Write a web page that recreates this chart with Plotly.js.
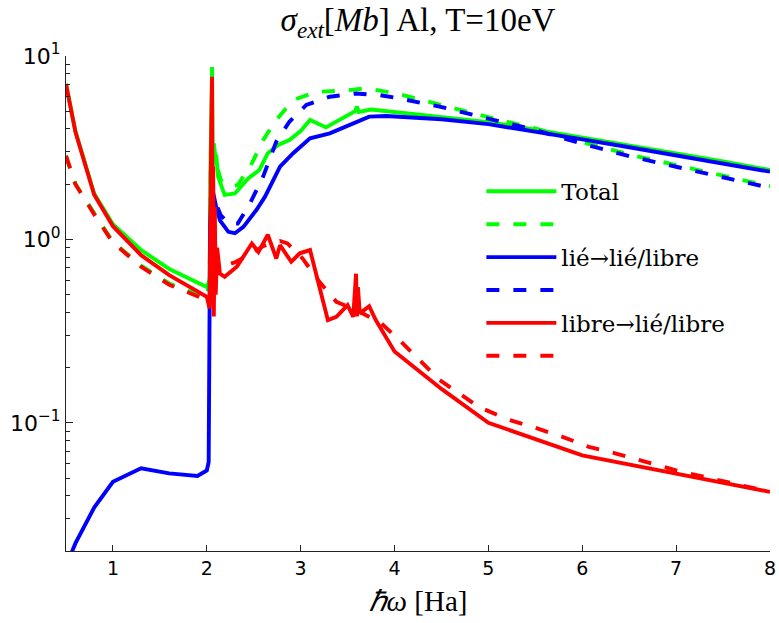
<!DOCTYPE html>
<html>
<head>
<meta charset="utf-8">
<script src="https://cdn.plot.ly/plotly-3.0.1.min.js"></script>
<style>html,body{margin:0;padding:0;background:#fff;}#chart{width:779px;height:623px;}</style>
</head>
<body>
<div id="chart"></div>
<script>
// ---- data ----
var totX = [0.5,0.6,0.8,1.0,1.3,1.6,2.0,2.03,2.04,2.048,2.056,2.064,2.072,2.085,2.1,2.12,2.19,2.3,2.44,2.56,2.65,2.76,2.88,3.0,3.1,3.27,3.49,3.58,3.6,3.62,3.75,4.0,4.5,5.0,5.5,6.0,6.5,7.0,7.5,8.0];
var totY = [7.05,3.9,1.78,1.21,0.875,0.69,0.55,0.6,2.7,5.5,8.7,2.5,3.1,2.7,2.9,2.2,1.75,1.78,2.15,2.39,2.95,3.27,3.48,3.9,4.48,4.08,4.67,5.0,5.3,4.95,5.11,4.95,4.68,4.36,3.97,3.58,3.25,2.94,2.66,2.39];

var totDX = [0.5,0.6,0.8,1.0,1.3,1.6,2.0,2.03,2.045,2.055,2.07,2.1,2.15,2.24,2.33,2.47,2.6,2.74,2.92,3.17,3.45,3.7,4.02,4.48,5.12,5.5,6.0,6.53,7.0,7.5,8.0];
var totDY = [2.87,2.01,1.39,0.97,0.72,0.575,0.48,0.6,3.8,2.6,3.5,2.6,2.1,1.94,1.98,2.54,3.48,4.48,5.75,6.38,6.47,6.67,6.25,5.41,4.48,4.03,3.39,2.88,2.54,2.23,1.95];

var bbX = [0.5,0.6,0.8,1.0,1.3,1.6,1.9,2.0,2.02,2.035,2.05,2.07,2.1,2.14,2.23,2.3,2.39,2.53,2.62,2.71,2.78,2.92,3.1,3.31,3.56,3.73,3.91,4.0,4.5,5.0,5.5,6.0,6.5,7.0,7.5,8.0];
var bbY = [0.0165,0.022,0.0345,0.0477,0.0565,0.053,0.0513,0.055,0.0612,1.2,1.8,1.78,1.5,1.27,1.10,1.08,1.17,1.45,1.71,2.11,2.49,2.95,3.56,3.79,4.3,4.67,4.71,4.68,4.52,4.25,3.88,3.51,3.18,2.88,2.61,2.34];

var bbDX = [2.04,2.06,2.08,2.15,2.24,2.33,2.46,2.6,2.74,2.88,3.06,3.31,3.59,3.84,4.05,4.48,5.12,5.5,6.0,6.53,7.0,7.5,8.0];
var bbDY = [1.0,1.7,1.64,1.35,1.22,1.22,1.57,2.2,3.41,4.38,5.41,6.0,6.25,6.12,5.87,5.3,4.4,3.95,3.32,2.82,2.49,2.18,1.91];

var fbX = [0.5,0.6,0.8,1.0,1.3,1.6,2.0,2.03,2.045,2.056,2.062,2.068,2.075,2.085,2.095,2.11,2.14,2.19,2.32,2.48,2.55,2.65,2.74,2.78,2.9,2.99,3.1,3.29,3.38,3.5,3.56,3.59,3.6,3.61,3.63,3.73,3.8,4.0,4.5,5.0,6.0,7.0,8.0];
var fbY = [7.03,3.86,1.75,1.18,0.82,0.638,0.486,0.42,3.0,7.7,0.6,2.5,0.38,1.5,0.5,0.9,0.65,0.625,0.71,0.95,0.855,1.06,0.787,0.93,0.755,0.84,0.875,0.363,0.378,0.438,0.378,0.65,0.38,0.55,0.395,0.432,0.363,0.245,0.153,0.1,0.0665,0.053,0.042];

var fbDX = [0.5,0.6,0.8,1.0,1.3,1.6,2.0,2.04,2.055,2.07,2.1,2.2,2.3,2.45,2.6,2.78,2.86,3.02,3.2,3.38,3.6,3.86,4.05,4.27,4.48,4.9,5.19,5.47,5.79,6.07,6.36,7.0,7.42,8.0];
var fbDY = [2.85,2.0,1.37,0.96,0.71,0.566,0.467,0.44,1.2,0.6,0.68,0.72,0.75,0.82,0.92,0.98,0.95,0.787,0.587,0.457,0.41,0.348,0.283,0.22,0.171,0.122,0.105,0.095,0.0838,0.0739,0.068,0.055,0.049,0.042];

var names = ['Total', ' ', 'lié→lié/libre', ' ', 'libre→lié/libre', ' '];
var xTicks = [1,2,3,4,5,6,7,8];
var yTicks = [0.1, 1, 10];
var yTickText = ['10<sup>−1</sup>', '10<sup>0</sup>', '10<sup>1</sup>'];

// ---- chart ----
var GREEN = '#00ff00', BLUE = '#0000ff', RED = '#ff0000';
var LW = 3.9, DASH = '13px,14px';
function tr(x, y, name, color, dashed) {
  return {x: x, y: y, name: name, type: 'scatter', mode: 'lines',
          line: {color: color, width: LW, dash: dashed ? DASH : 'solid'}};
}
var data = [
  tr(totX, totY, names[0], GREEN, false),
  tr(totDX, totDY, names[1], GREEN, true),
  tr(bbX, bbY, names[2], BLUE, false),
  tr(bbDX, bbDY, names[3], BLUE, true),
  tr(fbX, fbY, names[4], RED, false),
  tr(fbDX, fbDY, names[5], RED, true)
];

var minorVals = [];
[0.01, 0.1, 1].forEach(function (d) { for (var k = 2; k <= 9; k++) minorVals.push(k * d); });

var serif = 'Liberation Serif';
var sans = 'DejaVu Sans';
var layout = {
  width: 779, height: 623,
  margin: {l: 66, r: 9, t: 56, b: 72},
  paper_bgcolor: '#fff', plot_bgcolor: '#fff',
  showlegend: true,
  title: {text: '<i>σ<sub>ext</sub></i>[<i>Mb</i>] Al, T=10eV', font: {family: serif, size: 33, color: '#000'},
          x: 0.5, xref: 'paper', xanchor: 'center', y: 0.968, yanchor: 'middle'},
  xaxis: {range: [0.5, 8], tickmode: 'array', tickvals: xTicks, ticks: 'inside', ticklen: 6, tickcolor: '#222',
          showline: true, linecolor: '#222', linewidth: 1, mirror: false, showgrid: false, zeroline: false,
          tickfont: {family: sans, size: 19, color: '#000'},
          title: {text: '<i>ℏω</i> [Ha]', font: {family: serif, size: 29, color: '#000'}, standoff: 12}},
  yaxis: {type: 'log', range: [Math.log10(0.02), 1], tickmode: 'array', tickvals: yTicks, ticktext: yTickText,
          ticks: 'inside', ticklen: 7, tickcolor: '#222', showline: true, linecolor: '#222', linewidth: 1,
          mirror: false, showgrid: false, zeroline: false,
          minor: {tickmode: 'array', tickvals: minorVals, ticks: 'inside', ticklen: 4, tickcolor: '#222', showgrid: false},
          tickfont: {family: sans, size: 22, color: '#000'}},
  legend: {x: 0.59, y: 0.770, xanchor: 'left', yanchor: 'top', bgcolor: 'rgba(0,0,0,0)', borderwidth: 0,
           itemwidth: 70, font: {family: 'DejaVu Serif', size: 23, color: '#000'}, tracegroupgap: 0}
};
Plotly.newPlot('chart', data, layout, {displayModeBar: false, staticPlot: true});
</script>
</body>
</html>
